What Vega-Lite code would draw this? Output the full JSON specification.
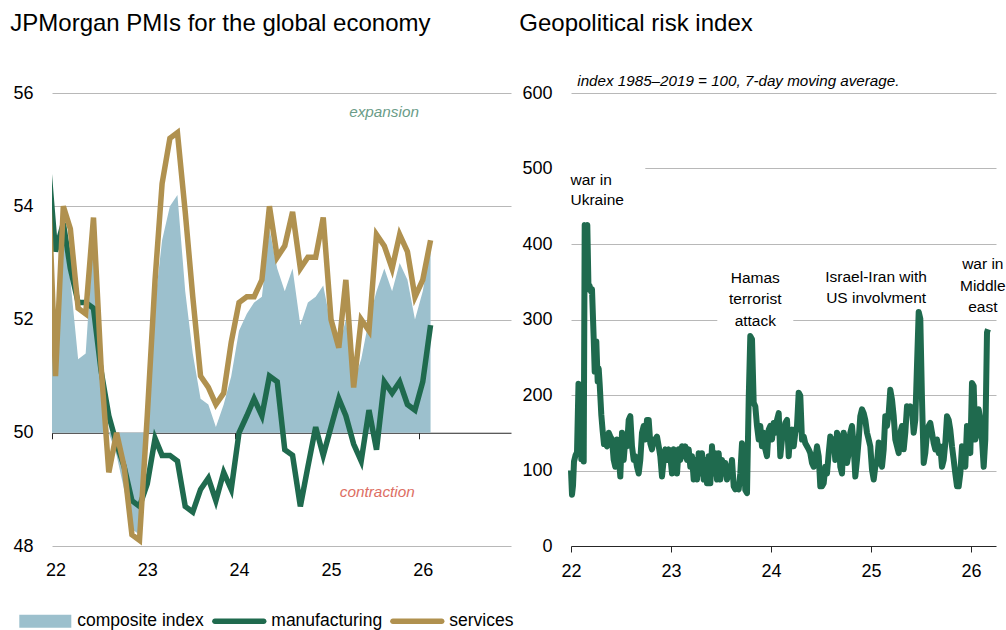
{
  "$schema": "https://vega.github.io/schema/vega-lite/v6.json",
  "background": "white",
  "padding": {"left": 10, "top": 11, "right": 0, "bottom": 0},
  "bounds": "flush",
  "spacing": 60,
  "config": {
    "font": "Liberation Sans",
    "view": {"stroke": null},
    "axis": {"labelFont": "Liberation Sans", "labelColor": "#000000", "domainColor": "#262626", "tickColor": "#262626", "gridColor": "#b8b8b8", "gridWidth": 1},
    "legend": {"labelFont": "Liberation Sans"},
    "text": {"font": "Liberation Sans"},
    "title": {"font": "Liberation Sans", "fontSize": 24, "fontWeight": "normal", "color": "#000000", "anchor": "start", "frame": "group"}
  },
  "datasets": {
    "pmi": [
      {"month": "2021/12/15", "composite index": 54.3, "manufacturing": 54.9, "services": 54.7},
      {"month": "2022/01/15", "composite index": 51.1, "manufacturing": 53.2, "services": 51.0},
      {"month": "2022/02/15", "composite index": 53.4, "manufacturing": 53.7, "services": 54.0},
      {"month": "2022/03/15", "composite index": 52.7, "manufacturing": 52.9, "services": 53.6},
      {"month": "2022/04/15", "composite index": 51.3, "manufacturing": 52.3, "services": 52.2},
      {"month": "2022/05/15", "composite index": 51.4, "manufacturing": 52.3, "services": 52.1},
      {"month": "2022/06/15", "composite index": 53.5, "manufacturing": 52.2, "services": 53.8},
      {"month": "2022/07/15", "composite index": 51.0, "manufacturing": 51.1, "services": 51.2},
      {"month": "2022/08/15", "composite index": 50.0, "manufacturing": 50.3, "services": 49.3},
      {"month": "2022/09/15", "composite index": 49.6, "manufacturing": 49.8, "services": 50.0},
      {"month": "2022/10/15", "composite index": 49.0, "manufacturing": 49.4, "services": 49.4},
      {"month": "2022/11/15", "composite index": 48.3, "manufacturing": 48.8, "services": 48.2},
      {"month": "2022/12/15", "composite index": 48.2, "manufacturing": 48.7, "services": 48.1},
      {"month": "2023/01/15", "composite index": 49.8, "manufacturing": 49.1, "services": 50.3},
      {"month": "2023/02/15", "composite index": 52.3, "manufacturing": 49.9, "services": 52.7},
      {"month": "2023/03/15", "composite index": 53.4, "manufacturing": 49.6, "services": 54.4},
      {"month": "2023/04/15", "composite index": 54.0, "manufacturing": 49.6, "services": 55.2},
      {"month": "2023/05/15", "composite index": 54.2, "manufacturing": 49.5, "services": 55.3},
      {"month": "2023/06/15", "composite index": 52.5, "manufacturing": 48.7, "services": 53.9},
      {"month": "2023/07/15", "composite index": 51.4, "manufacturing": 48.6, "services": 52.4},
      {"month": "2023/08/15", "composite index": 50.6, "manufacturing": 49.0, "services": 51.0},
      {"month": "2023/09/15", "composite index": 50.5, "manufacturing": 49.2, "services": 50.8},
      {"month": "2023/10/15", "composite index": 50.1, "manufacturing": 48.8, "services": 50.5},
      {"month": "2023/11/15", "composite index": 50.5, "manufacturing": 49.3, "services": 50.7},
      {"month": "2023/12/15", "composite index": 51.0, "manufacturing": 49.0, "services": 51.6},
      {"month": "2024/01/15", "composite index": 51.8, "manufacturing": 50.0, "services": 52.3},
      {"month": "2024/02/15", "composite index": 52.1, "manufacturing": 50.3, "services": 52.4},
      {"month": "2024/03/15", "composite index": 52.3, "manufacturing": 50.6, "services": 52.4},
      {"month": "2024/04/15", "composite index": 52.4, "manufacturing": 50.3, "services": 52.7},
      {"month": "2024/05/15", "composite index": 53.6, "manufacturing": 51.0, "services": 54.0},
      {"month": "2024/06/15", "composite index": 52.9, "manufacturing": 50.9, "services": 53.1},
      {"month": "2024/07/15", "composite index": 52.5, "manufacturing": 49.7, "services": 53.3},
      {"month": "2024/08/15", "composite index": 52.9, "manufacturing": 49.6, "services": 53.9},
      {"month": "2024/09/15", "composite index": 51.9, "manufacturing": 48.7, "services": 52.9},
      {"month": "2024/10/15", "composite index": 52.3, "manufacturing": 49.4, "services": 53.1},
      {"month": "2024/11/15", "composite index": 52.4, "manufacturing": 50.1, "services": 53.1},
      {"month": "2024/12/15", "composite index": 52.6, "manufacturing": 49.6, "services": 53.8},
      {"month": "2025/01/15", "composite index": 51.9, "manufacturing": 50.1, "services": 52.0},
      {"month": "2025/02/15", "composite index": 51.5, "manufacturing": 50.6, "services": 51.5},
      {"month": "2025/03/15", "composite index": 52.0, "manufacturing": 50.3, "services": 52.7},
      {"month": "2025/04/15", "composite index": 50.9, "manufacturing": 49.8, "services": 50.8},
      {"month": "2025/05/15", "composite index": 51.3, "manufacturing": 49.5, "services": 52.0},
      {"month": "2025/06/15", "composite index": 52.0, "manufacturing": 50.4, "services": 51.8},
      {"month": "2025/07/15", "composite index": 52.5, "manufacturing": 49.7, "services": 53.5},
      {"month": "2025/08/15", "composite index": 52.9, "manufacturing": 50.9, "services": 53.3},
      {"month": "2025/09/15", "composite index": 52.5, "manufacturing": 50.7, "services": 52.9},
      {"month": "2025/10/15", "composite index": 53.0, "manufacturing": 50.9, "services": 53.5},
      {"month": "2025/11/15", "composite index": 52.7, "manufacturing": 50.5, "services": 53.2},
      {"month": "2025/12/15", "composite index": 52.0, "manufacturing": 50.4, "services": 52.4},
      {"month": "2026/01/15", "composite index": 52.5, "manufacturing": 50.9, "services": 52.7},
      {"month": "2026/02/15", "composite index": 53.3, "manufacturing": 51.9, "services": 53.4}
    ],
    "pmiNotes": [
      {"month": "2025/08/14", "pmi": 55.58, "note": "expansion"},
      {"month": "2025/07/18", "pmi": 48.87, "note": "contraction"}
    ],
    "gpr": [
      {"year": 2022.000, "gpr": 100}, {"year": 2022.010, "gpr": 68}, {"year": 2022.020, "gpr": 80}, {"year": 2022.030, "gpr": 112},
      {"year": 2022.045, "gpr": 120}, {"year": 2022.060, "gpr": 124}, {"year": 2022.075, "gpr": 215}, {"year": 2022.085, "gpr": 205},
      {"year": 2022.093, "gpr": 209}, {"year": 2022.103, "gpr": 115}, {"year": 2022.117, "gpr": 190}, {"year": 2022.127, "gpr": 112},
      {"year": 2022.137, "gpr": 425}, {"year": 2022.150, "gpr": 423}, {"year": 2022.163, "gpr": 425}, {"year": 2022.175, "gpr": 340},
      {"year": 2022.185, "gpr": 345}, {"year": 2022.200, "gpr": 337}, {"year": 2022.210, "gpr": 340}, {"year": 2022.227, "gpr": 275},
      {"year": 2022.237, "gpr": 231}, {"year": 2022.253, "gpr": 271}, {"year": 2022.267, "gpr": 218}, {"year": 2022.277, "gpr": 235},
      {"year": 2022.287, "gpr": 214}, {"year": 2022.303, "gpr": 174}, {"year": 2022.317, "gpr": 152}, {"year": 2022.330, "gpr": 135},
      {"year": 2022.343, "gpr": 136}, {"year": 2022.360, "gpr": 132}, {"year": 2022.377, "gpr": 150}, {"year": 2022.393, "gpr": 145},
      {"year": 2022.410, "gpr": 141}, {"year": 2022.427, "gpr": 114}, {"year": 2022.443, "gpr": 105}, {"year": 2022.460, "gpr": 141},
      {"year": 2022.477, "gpr": 119}, {"year": 2022.493, "gpr": 92}, {"year": 2022.510, "gpr": 150}, {"year": 2022.527, "gpr": 114},
      {"year": 2022.543, "gpr": 141}, {"year": 2022.560, "gpr": 132}, {"year": 2022.577, "gpr": 167}, {"year": 2022.593, "gpr": 172},
      {"year": 2022.610, "gpr": 132}, {"year": 2022.627, "gpr": 114}, {"year": 2022.643, "gpr": 119}, {"year": 2022.660, "gpr": 105},
      {"year": 2022.677, "gpr": 96}, {"year": 2022.693, "gpr": 114}, {"year": 2022.710, "gpr": 150}, {"year": 2022.727, "gpr": 159},
      {"year": 2022.743, "gpr": 141}, {"year": 2022.760, "gpr": 167}, {"year": 2022.777, "gpr": 167}, {"year": 2022.793, "gpr": 136},
      {"year": 2022.810, "gpr": 128}, {"year": 2022.827, "gpr": 141}, {"year": 2022.843, "gpr": 141}, {"year": 2022.860, "gpr": 145},
      {"year": 2022.877, "gpr": 132}, {"year": 2022.893, "gpr": 119}, {"year": 2022.910, "gpr": 92}, {"year": 2022.927, "gpr": 114},
      {"year": 2022.943, "gpr": 128}, {"year": 2022.960, "gpr": 114}, {"year": 2022.977, "gpr": 128}, {"year": 2022.993, "gpr": 119},
      {"year": 2023.010, "gpr": 96}, {"year": 2023.027, "gpr": 128}, {"year": 2023.043, "gpr": 119}, {"year": 2023.060, "gpr": 96},
      {"year": 2023.077, "gpr": 128}, {"year": 2023.093, "gpr": 114}, {"year": 2023.110, "gpr": 132}, {"year": 2023.127, "gpr": 119},
      {"year": 2023.143, "gpr": 132}, {"year": 2023.160, "gpr": 114}, {"year": 2023.177, "gpr": 128}, {"year": 2023.193, "gpr": 105},
      {"year": 2023.210, "gpr": 119}, {"year": 2023.227, "gpr": 88}, {"year": 2023.243, "gpr": 114}, {"year": 2023.260, "gpr": 88},
      {"year": 2023.277, "gpr": 123}, {"year": 2023.293, "gpr": 96}, {"year": 2023.310, "gpr": 123}, {"year": 2023.327, "gpr": 88},
      {"year": 2023.343, "gpr": 114}, {"year": 2023.360, "gpr": 83}, {"year": 2023.377, "gpr": 119}, {"year": 2023.393, "gpr": 83},
      {"year": 2023.410, "gpr": 132}, {"year": 2023.427, "gpr": 96}, {"year": 2023.443, "gpr": 123}, {"year": 2023.460, "gpr": 88},
      {"year": 2023.477, "gpr": 123}, {"year": 2023.493, "gpr": 88}, {"year": 2023.510, "gpr": 114}, {"year": 2023.527, "gpr": 96},
      {"year": 2023.543, "gpr": 110}, {"year": 2023.560, "gpr": 88}, {"year": 2023.577, "gpr": 105}, {"year": 2023.593, "gpr": 92},
      {"year": 2023.610, "gpr": 114}, {"year": 2023.627, "gpr": 79}, {"year": 2023.643, "gpr": 75}, {"year": 2023.660, "gpr": 79},
      {"year": 2023.677, "gpr": 75}, {"year": 2023.693, "gpr": 96}, {"year": 2023.710, "gpr": 136}, {"year": 2023.727, "gpr": 123},
      {"year": 2023.743, "gpr": 74}, {"year": 2023.760, "gpr": 70}, {"year": 2023.777, "gpr": 194}, {"year": 2023.793, "gpr": 278},
      {"year": 2023.810, "gpr": 274}, {"year": 2023.827, "gpr": 190}, {"year": 2023.843, "gpr": 185}, {"year": 2023.860, "gpr": 159},
      {"year": 2023.877, "gpr": 141}, {"year": 2023.893, "gpr": 159}, {"year": 2023.910, "gpr": 132}, {"year": 2023.927, "gpr": 150},
      {"year": 2023.943, "gpr": 128}, {"year": 2023.960, "gpr": 119}, {"year": 2023.977, "gpr": 154}, {"year": 2023.993, "gpr": 159},
      {"year": 2024.010, "gpr": 141}, {"year": 2024.027, "gpr": 163}, {"year": 2024.043, "gpr": 150}, {"year": 2024.060, "gpr": 167},
      {"year": 2024.077, "gpr": 176}, {"year": 2024.093, "gpr": 119}, {"year": 2024.110, "gpr": 141}, {"year": 2024.127, "gpr": 150},
      {"year": 2024.143, "gpr": 163}, {"year": 2024.160, "gpr": 167}, {"year": 2024.177, "gpr": 119}, {"year": 2024.193, "gpr": 150},
      {"year": 2024.210, "gpr": 154}, {"year": 2024.227, "gpr": 132}, {"year": 2024.243, "gpr": 150}, {"year": 2024.260, "gpr": 159},
      {"year": 2024.277, "gpr": 203}, {"year": 2024.293, "gpr": 199}, {"year": 2024.310, "gpr": 141}, {"year": 2024.327, "gpr": 145},
      {"year": 2024.343, "gpr": 136}, {"year": 2024.360, "gpr": 132}, {"year": 2024.377, "gpr": 128}, {"year": 2024.393, "gpr": 123},
      {"year": 2024.410, "gpr": 110}, {"year": 2024.427, "gpr": 105}, {"year": 2024.443, "gpr": 114}, {"year": 2024.460, "gpr": 132},
      {"year": 2024.477, "gpr": 119}, {"year": 2024.493, "gpr": 79}, {"year": 2024.510, "gpr": 79}, {"year": 2024.527, "gpr": 83},
      {"year": 2024.543, "gpr": 105}, {"year": 2024.560, "gpr": 96}, {"year": 2024.577, "gpr": 123}, {"year": 2024.593, "gpr": 145},
      {"year": 2024.610, "gpr": 132}, {"year": 2024.627, "gpr": 141}, {"year": 2024.643, "gpr": 114}, {"year": 2024.660, "gpr": 150},
      {"year": 2024.677, "gpr": 145}, {"year": 2024.693, "gpr": 105}, {"year": 2024.710, "gpr": 96}, {"year": 2024.727, "gpr": 150},
      {"year": 2024.743, "gpr": 141}, {"year": 2024.760, "gpr": 110}, {"year": 2024.777, "gpr": 123}, {"year": 2024.793, "gpr": 150},
      {"year": 2024.810, "gpr": 159}, {"year": 2024.827, "gpr": 132}, {"year": 2024.843, "gpr": 92}, {"year": 2024.860, "gpr": 114},
      {"year": 2024.877, "gpr": 141}, {"year": 2024.893, "gpr": 172}, {"year": 2024.910, "gpr": 181}, {"year": 2024.927, "gpr": 176},
      {"year": 2024.943, "gpr": 167}, {"year": 2024.960, "gpr": 150}, {"year": 2024.977, "gpr": 141}, {"year": 2024.993, "gpr": 132},
      {"year": 2025.010, "gpr": 101}, {"year": 2025.027, "gpr": 88}, {"year": 2025.043, "gpr": 105}, {"year": 2025.060, "gpr": 110},
      {"year": 2025.077, "gpr": 137}, {"year": 2025.093, "gpr": 119}, {"year": 2025.110, "gpr": 105}, {"year": 2025.127, "gpr": 128},
      {"year": 2025.143, "gpr": 172}, {"year": 2025.160, "gpr": 159}, {"year": 2025.177, "gpr": 176}, {"year": 2025.193, "gpr": 207},
      {"year": 2025.210, "gpr": 194}, {"year": 2025.227, "gpr": 172}, {"year": 2025.243, "gpr": 141}, {"year": 2025.260, "gpr": 132},
      {"year": 2025.277, "gpr": 123}, {"year": 2025.293, "gpr": 150}, {"year": 2025.310, "gpr": 159}, {"year": 2025.327, "gpr": 128},
      {"year": 2025.343, "gpr": 150}, {"year": 2025.360, "gpr": 185}, {"year": 2025.377, "gpr": 181}, {"year": 2025.393, "gpr": 185},
      {"year": 2025.410, "gpr": 181}, {"year": 2025.427, "gpr": 150}, {"year": 2025.443, "gpr": 167}, {"year": 2025.460, "gpr": 239},
      {"year": 2025.477, "gpr": 310}, {"year": 2025.493, "gpr": 301}, {"year": 2025.510, "gpr": 194}, {"year": 2025.527, "gpr": 110},
      {"year": 2025.543, "gpr": 123}, {"year": 2025.560, "gpr": 150}, {"year": 2025.577, "gpr": 159}, {"year": 2025.593, "gpr": 163},
      {"year": 2025.610, "gpr": 150}, {"year": 2025.627, "gpr": 136}, {"year": 2025.643, "gpr": 128}, {"year": 2025.660, "gpr": 141},
      {"year": 2025.677, "gpr": 123}, {"year": 2025.693, "gpr": 132}, {"year": 2025.710, "gpr": 105}, {"year": 2025.727, "gpr": 114},
      {"year": 2025.743, "gpr": 136}, {"year": 2025.760, "gpr": 172}, {"year": 2025.777, "gpr": 167}, {"year": 2025.793, "gpr": 154},
      {"year": 2025.810, "gpr": 132}, {"year": 2025.827, "gpr": 114}, {"year": 2025.843, "gpr": 96}, {"year": 2025.860, "gpr": 79},
      {"year": 2025.877, "gpr": 79}, {"year": 2025.893, "gpr": 96}, {"year": 2025.910, "gpr": 132}, {"year": 2025.927, "gpr": 114},
      {"year": 2025.943, "gpr": 105}, {"year": 2025.960, "gpr": 159}, {"year": 2025.977, "gpr": 141}, {"year": 2025.993, "gpr": 123},
      {"year": 2026.010, "gpr": 216}, {"year": 2026.027, "gpr": 212}, {"year": 2026.043, "gpr": 141}, {"year": 2026.060, "gpr": 150},
      {"year": 2026.077, "gpr": 181}, {"year": 2026.093, "gpr": 167}, {"year": 2026.110, "gpr": 141}, {"year": 2026.127, "gpr": 105},
      {"year": 2026.143, "gpr": 141}, {"year": 2026.160, "gpr": 283}, {"year": 2026.170, "gpr": 287}
    ],
    "gprNotes": [
      {"event": "Ukraine", "year": 2021.995, "gpr": 478, "lines": ["war in", "Ukraine"], "x0": 2022.0, "x1": 2022.743, "y0": 437, "y1": 510},
      {"event": "Hamas", "year": 2023.843, "gpr": 348.7, "lines": ["Hamas", "terrorist", "attack"], "x0": 2023.463, "x1": 2024.223, "y0": 279, "y1": 375},
      {"event": "Israel-Iran", "year": 2025.051, "gpr": 350, "lines": ["Israel-Iran with", "US involvment"]},
      {"event": "Middle East", "year": 2026.118, "gpr": 366.5, "lines": ["war in", "Middle", "east"]}
    ]
  },
  "hconcat": [
    {
      "width": 459,
      "height": 453,
      "title": {"text": "JPMorgan PMIs for the global economy", "dx": -41.7, "offset": 48},
      "layer": [
        {
          "data": {"name": "pmi"},
          "transform": [
            {"fold": ["composite index", "manufacturing", "services"], "as": ["series", "pmi"]},
            {"filter": "datum.series === 'composite index'"}
          ],
          "mark": {"type": "area", "clip": true},
          "encoding": {
            "x": {
              "field": "month", "type": "temporal",
              "scale": {"domain": [{"year": 2022, "month": 1, "date": 1}, {"year": 2027, "month": 1, "date": 1}]},
              "axis": {
                "values": [{"year": 2022, "month": 1, "date": 1}, {"year": 2023, "month": 1, "date": 1}, {"year": 2024, "month": 1, "date": 1}, {"year": 2025, "month": 1, "date": 1}, {"year": 2026, "month": 1, "date": 1}],
                "format": "%y", "title": null, "domain": false, "ticks": false, "tickSize": 0, "grid": false,
                "labelFontSize": 18, "labelPadding": 15, "labelOffset": 3.5, "labelFlush": false
              }
            },
            "y": {
              "field": "pmi", "type": "quantitative",
              "scale": {"domain": [48, 56], "nice": false, "zero": false},
              "axis": {
                "values": [48, 50, 52, 54, 56], "format": "d", "title": null, "domain": false, "ticks": false, "tickSize": 0,
                "labelFontSize": 18, "labelPadding": 19, "grid": true,
                "gridColor": {"condition": {"test": "datum.value === 50", "value": "transparent"}, "value": "#b8b8b8"}
              }
            },
            "y2": {"datum": 50},
            "color": {
              "field": "series", "type": "nominal",
              "scale": {"domain": ["composite index", "manufacturing", "services"], "range": ["#9cc0cd", "#1f6a4e", "#b0914f"]},
              "legend": {
                "title": null, "orient": "none", "legendX": -32.7, "legendY": 502, "direction": "horizontal",
                "symbolSize": 2704, "symbolStrokeWidth": 0,
                "labelFontSize": 17.5, "labelColor": "#000000", "labelOffset": 6, "columnPadding": 7,
                "encode": {
                  "symbols": {
                    "update": {
                      "shape": {"signal": "datum.value === 'composite index' ? 'M-1,-0.25H1V0.25H-1Z' : 'M-0.94,-0.105H0.94A0.105,0.105 0 0 1 0.94,0.105H-0.94A0.105,0.105 0 0 1 -0.94,-0.105Z'"},
                      "fill": {"signal": "datum.value === 'composite index' ? '#9cc0cd' : datum.value === 'manufacturing' ? '#1f6a4e' : '#b0914f'"},
                      "fillOpacity": {"value": 1},
                      "opacity": {"value": 1},
                      "strokeWidth": {"value": 0}
                    }
                  }
                }
              }
            }
          }
        },
        {
          "data": {"name": "pmi"},
          "transform": [
            {"fold": ["composite index", "manufacturing", "services"], "as": ["series", "pmi"]},
            {"filter": "datum.series !== 'composite index'"}
          ],
          "mark": {"type": "line", "clip": true, "strokeWidth": 5.5},
          "encoding": {
            "x": {
              "field": "month", "type": "temporal",
              "scale": {"domain": [{"year": 2022, "month": 1, "date": 1}, {"year": 2027, "month": 1, "date": 1}]},
              "axis": {
                "orient": "bottom",
                "values": [{"year": 2022, "month": 1, "date": 1}, {"year": 2023, "month": 1, "date": 1}, {"year": 2024, "month": 1, "date": 1}, {"year": 2025, "month": 1, "date": 1}, {"year": 2026, "month": 1, "date": 1}],
                "title": null, "labels": false, "grid": false, "domain": true, "ticks": true, "tickSize": 6,
                "offset": -113.25, "domainColor": "#262626", "tickColor": "#262626"
              }
            },
            "y": {"field": "pmi", "type": "quantitative", "scale": {"domain": [48, 56], "nice": false, "zero": false}},
            "color": {"field": "series", "type": "nominal"}
          }
        },
        {
          "data": {"name": "pmiNotes"},
          "mark": {"type": "text", "fontStyle": "italic", "fontSize": 15.3, "align": "center", "baseline": "alphabetic"},
          "encoding": {
            "x": {"field": "month", "type": "temporal", "scale": {"domain": [{"year": 2022, "month": 1, "date": 1}, {"year": 2027, "month": 1, "date": 1}]}, "axis": null},
            "y": {"field": "pmi", "type": "quantitative", "scale": {"domain": [48, 56], "nice": false, "zero": false}},
            "text": {"field": "note"},
            "fill": {"field": "note", "type": "nominal", "scale": {"domain": ["expansion", "contraction"], "range": ["#6a9c88", "#dd6e63"]}, "legend": null}
          }
        }
      ],
      "resolve": {"axis": {"x": "independent"}}
    },
    {
      "width": 425,
      "height": 453,
      "title": {"text": "Geopolitical risk index", "dx": -51.7, "offset": 38},
      "layer": [
        {
          "data": {"name": "gprNotes"},
          "transform": [{"filter": "isValid(datum.x0)"}],
          "mark": {"type": "rect", "fill": "white", "stroke": null},
          "encoding": {
            "x": {"field": "x0", "type": "quantitative", "title": null, "scale": {"domain": [2022, 2026.25], "nice": false, "zero": false}},
            "x2": {"field": "x1"},
            "y": {"field": "y0", "type": "quantitative", "title": null, "scale": {"domain": [0, 600], "nice": false}},
            "y2": {"field": "y1"}
          }
        },
        {
          "data": {"name": "gpr"},
          "mark": {"type": "line", "color": "#1f6a4e", "strokeWidth": 6, "strokeJoin": "round"},
          "encoding": {
            "x": {
              "field": "year", "type": "quantitative",
              "scale": {"domain": [2022, 2026.25], "nice": false, "zero": false},
              "axis": {
                "values": [2022, 2023, 2024, 2025, 2026], "labelExpr": "format(datum.value - 2000, 'd')",
                "title": null, "grid": false, "domain": true, "ticks": true, "tickSize": 6,
                "labelFontSize": 18, "labelPadding": 10, "labelFlush": false
              }
            },
            "y": {
              "field": "gpr", "type": "quantitative",
              "scale": {"domain": [0, 600], "nice": false},
              "axis": {
                "values": [0, 100, 200, 300, 400, 500, 600], "format": "d", "title": null, "domain": false, "ticks": false, "tickSize": 0,
                "labelFontSize": 18, "labelPadding": 19, "grid": true,
                "gridColor": {"condition": {"test": "datum.value === 0", "value": "transparent"}, "value": "#b8b8b8"}
              }
            }
          }
        },
        {
          "data": {"values": [{"year": 2022.063, "gpr": 609.3, "note": "index 1985–2019 = 100, 7-day moving average."}]},
          "mark": {"type": "text", "fontStyle": "italic", "fontSize": 15.2, "align": "left", "baseline": "alphabetic", "color": "#000000"},
          "encoding": {
            "x": {"field": "year", "type": "quantitative", "title": null, "scale": {"domain": [2022, 2026.25], "nice": false, "zero": false}},
            "y": {"field": "gpr", "type": "quantitative", "title": null, "scale": {"domain": [0, 600], "nice": false}},
            "text": {"field": "note"}
          }
        },
        {
          "data": {"name": "gprNotes"},
          "transform": [{"filter": "datum.event === 'Ukraine'"}],
          "mark": {"type": "text", "fontSize": 15.5, "align": "left", "baseline": "alphabetic", "lineHeight": 20, "color": "#000000"},
          "encoding": {
            "x": {"field": "year", "type": "quantitative", "title": null, "scale": {"domain": [2022, 2026.25], "nice": false, "zero": false}},
            "y": {"field": "gpr", "type": "quantitative", "title": null, "scale": {"domain": [0, 600], "nice": false}},
            "text": {"field": "lines"}
          }
        },
        {
          "data": {"name": "gprNotes"},
          "transform": [{"filter": "datum.event !== 'Ukraine'"}],
          "mark": {"type": "text", "fontSize": 15.5, "align": "center", "baseline": "alphabetic", "lineHeight": 21.5, "color": "#000000"},
          "encoding": {
            "x": {"field": "year", "type": "quantitative", "title": null, "scale": {"domain": [2022, 2026.25], "nice": false, "zero": false}},
            "y": {"field": "gpr", "type": "quantitative", "title": null, "scale": {"domain": [0, 600], "nice": false}},
            "text": {"field": "lines"}
          }
        }
      ]
    }
  ]
}
